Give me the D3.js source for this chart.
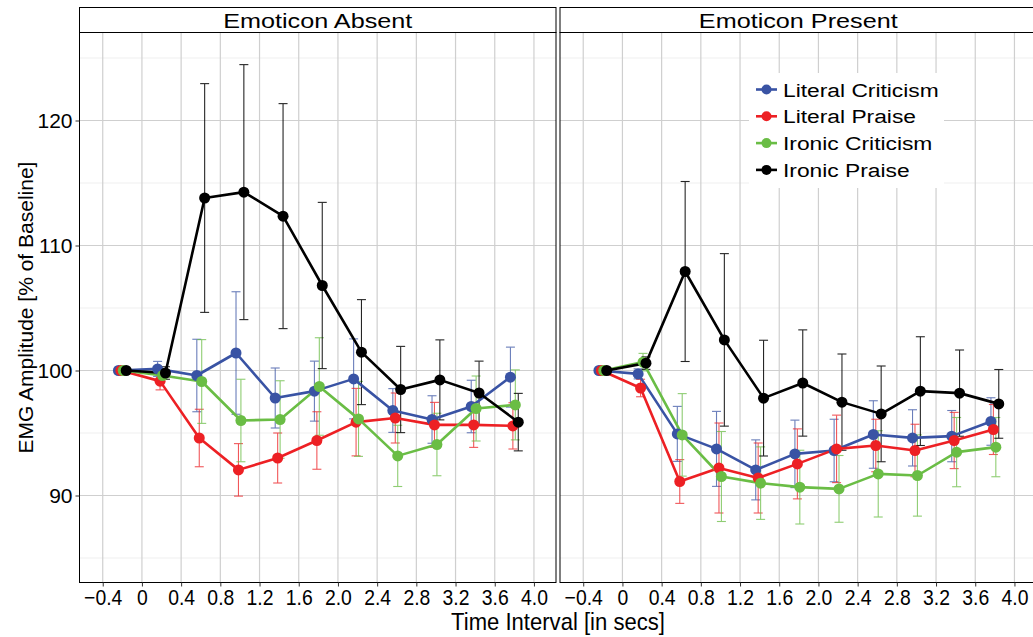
<!DOCTYPE html>
<html>
<head>
<meta charset="utf-8">
<script src="https://cdn.jsdelivr.net/npm/d3@7"></script>
<style>
  body { margin: 0; background: #fff; }
  svg { display: block; }
  text { font-family: "Liberation Sans", Arial, sans-serif; fill: #000; }
</style>
</head>
<body>
<div id="chart"></div>
<script>
// time bins (secs) and the two facets
const times = [-0.2, 0.2, 0.6, 1.0, 1.4, 1.8, 2.2, 2.6, 3.0, 3.4, 3.8];
const panels = ["Emoticon Absent", "Emoticon Present"];
const seriesNames = ["Literal Criticism", "Literal Praise", "Ironic Criticism", "Ironic Praise"];
const seriesColors = ["#3953a4", "#ed2024", "#6abd45", "#000000"];
const xTicks = [-0.4, 0, 0.4, 0.8, 1.2, 1.6, 2.0, 2.4, 2.8, 3.2, 3.6, 4.0];
const xTickLabels = ["\u22120.4", "0", "0.4", "0.8", "1.2", "1.6", "2.0", "2.4", "2.8", "3.2", "3.6", "4.0"];
const yTicks = [90, 100, 110, 120];
const yMinor = [85, 95, 105, 115, 125];

// Emoticon Absent
const absentLC    = [100, 100.13, 99.6, 101.4, 97.8, 98.35, 99.33, 96.8, 96.08, 97.12, 99.47];
const absentLCErr = [0, 0.6, 2.9, 4.9, 2.4, 2.4, 3.2, 1.75, 1.9, 2.1, 2.4];
const absentLP    = [100, 99.15, 94.6, 92.05, 93.0, 94.4, 95.87, 96.2, 95.65, 95.65, 95.57];
const absentLPErr = [0, 0.7, 2.3, 2.1, 2.0, 2.3, 2.7, 2.0, 1.8, 1.8, 1.85];
const absentIC    = [100, 99.6, 99.12, 96.0, 96.08, 98.72, 96.13, 93.17, 94.08, 96.96, 97.25];
const absentICErr = [0, 0.3, 3.35, 3.3, 3.1, 3.9, 3.0, 2.45, 2.5, 2.6, 2.8];
const absentIP    = [100, 99.8, 113.8, 114.27, 112.35, 106.8, 101.47, 98.48, 99.25, 98.2, 95.87];
const absentIPErr = [0, 0.5, 9.15, 10.2, 9.0, 6.65, 4.2, 3.45, 3.2, 2.55, 2.3];

// Emoticon Present
const presentLC    = [100, 99.73, 94.93, 93.73, 92.05, 93.33, 93.6, 94.88, 94.61, 94.75, 95.92];
const presentLCErr = [0, 0.4, 2.2, 3.0, 2.4, 2.7, 2.5, 2.7, 2.25, 2.05, 1.9];
const presentLP    = [100, 98.6, 91.12, 92.2, 91.4, 92.53, 93.73, 94.0, 93.6, 94.4, 95.28];
const presentLPErr = [0, 0.7, 1.75, 3.6, 2.8, 2.8, 2.7, 2.1, 2.1, 2.25, 2.0];
const presentIC    = [100, 100.67, 94.85, 91.52, 90.99, 90.67, 90.53, 91.73, 91.6, 93.47, 93.87];
const presentICErr = [0, 0.7, 3.3, 3.6, 2.9, 2.95, 2.67, 3.45, 3.25, 2.77, 2.37];
const presentIP    = [100, 100.59, 107.92, 102.45, 97.79, 99.0, 97.47, 96.53, 98.35, 98.19, 97.33];
const presentIPErr = [0, 0.5, 7.2, 6.9, 4.63, 4.25, 3.85, 3.83, 4.35, 3.45, 2.75];

const panelData = [
  [[absentLC, absentLCErr], [absentLP, absentLPErr], [absentIC, absentICErr], [absentIP, absentIPErr]],
  [[presentLC, presentLCErr], [presentLP, presentLPErr], [presentIC, presentICErr], [presentIP, presentIPErr]]
];

const W = 1033, H = 637;
const panelW = 476.5, panelGap = 4;
const left = 79.5, stripTop = 7.5, stripH = 25, plotTop = 32.5, plotBot = 582.5;
const dodge = [-0.04, -0.015, 0.01, 0.04];

const svg = d3.select("#chart").append("svg")
  .attr("width", W).attr("height", H);

const x = d3.scaleLinear().domain([-0.637, 4.225]).range([0, panelW]);
const y = d3.scaleLinear().domain([83.04, 127.04]).range([plotBot - plotTop, 0]);

panels.forEach(function(title, pi) {
  const px = left + pi * (panelW + panelGap);
  const g = svg.append("g").attr("transform", `translate(${px},${plotTop})`);
  const h = plotBot - plotTop;

  // strip
  svg.append("rect")
    .attr("x", px).attr("y", stripTop).attr("width", panelW).attr("height", stripH)
    .attr("fill", "#fff").attr("stroke", "#000").attr("stroke-width", 1);
  svg.append("text")
    .attr("transform", `translate(${px + panelW / 2},${stripTop + stripH / 2 + 7.5}) scale(1.2,1)`)
    .attr("text-anchor", "middle").style("font-size", "21px")
    .text(title);

  // grid
  g.selectAll(".ymin").data(yMinor).enter().append("line")
    .attr("x1", 0).attr("x2", panelW)
    .attr("y1", d => y(d)).attr("y2", d => y(d))
    .attr("stroke", "#efefef").attr("stroke-width", 1);
  g.selectAll(".ymaj").data(yTicks).enter().append("line")
    .attr("x1", 0).attr("x2", panelW)
    .attr("y1", d => y(d)).attr("y2", d => y(d))
    .attr("stroke", "#cfcfcf").attr("stroke-width", 1.2);
  g.selectAll(".xmaj").data(xTicks).enter().append("line")
    .attr("y1", 0).attr("y2", h)
    .attr("x1", d => x(d)).attr("x2", d => x(d))
    .attr("stroke", "#cfcfcf").attr("stroke-width", 1.2);

  const series = panelData[pi];

  // error bars
  series.forEach(function(s, si) {
    const pts = times.map((t, i) => ({ t: t + dodge[si], m: s[0][i], e: s[1][i] }));
    const eb = g.append("g").attr("stroke", seriesColors[si]).attr("stroke-width", 1.1)
      .attr("opacity", si === 3 ? 0.85 : 0.75);
    pts.filter(p => p.e > 0).forEach(function(p) {
      const cx = x(p.t);
      eb.append("line").attr("x1", cx).attr("x2", cx).attr("y1", y(p.m - p.e)).attr("y2", y(p.m + p.e));
      eb.append("line").attr("x1", cx - 4.5).attr("x2", cx + 4.5).attr("y1", y(p.m - p.e)).attr("y2", y(p.m - p.e));
      eb.append("line").attr("x1", cx - 4.5).attr("x2", cx + 4.5).attr("y1", y(p.m + p.e)).attr("y2", y(p.m + p.e));
    });
  });

  // lines
  const line = d3.line().x(d => x(d.t)).y(d => y(d.m));
  series.forEach(function(s, si) {
    const pts = times.map((t, i) => ({ t: t + dodge[si], m: s[0][i] }));
    g.append("path").datum(pts).attr("d", line)
      .attr("fill", "none").attr("stroke", seriesColors[si]).attr("stroke-width", 2.6)
      .attr("stroke-linejoin", "round");
  });

  // points
  series.forEach(function(s, si) {
    const pts = times.map((t, i) => ({ t: t + dodge[si], m: s[0][i] }));
    g.selectAll(".pt" + si).data(pts).enter().append("circle")
      .attr("cx", d => x(d.t)).attr("cy", d => y(d.m)).attr("r", 5.5)
      .attr("fill", seriesColors[si]);
  });

  // panel border
  g.append("rect").attr("x", 0).attr("y", 0).attr("width", panelW).attr("height", h)
    .attr("fill", "none").attr("stroke", "#000").attr("stroke-width", 1);

  // x axis
  const xa = svg.append("g").attr("transform", `translate(${px},${plotBot})`)
    .call(d3.axisBottom(x).tickValues(xTicks).tickSize(4).tickPadding(3)
      .tickFormat((d, i) => xTickLabels[i]));
  xa.select(".domain").remove();
  xa.selectAll(".tick line").attr("stroke", "#333");
  xa.selectAll(".tick text")
    .attr("transform", "scale(0.88,1)")
    .style("font-size", "22px").attr("fill", "#000");
});

// y axis
const ya = svg.append("g").attr("transform", `translate(${left},${plotTop})`)
  .call(d3.axisLeft(y).tickValues(yTicks).tickSize(4).tickPadding(3));
ya.select(".domain").remove();
ya.selectAll(".tick line").attr("stroke", "#333");
ya.selectAll(".tick text").style("font-size", "21px").attr("fill", "#000");

// axis titles
svg.append("text")
  .attr("transform", `translate(${left + panelW + panelGap / 2},630) scale(0.92,1)`)
  .attr("text-anchor", "middle").style("font-size", "24px")
  .text("Time Interval [in secs]");
svg.append("text")
  .attr("transform", `translate(33,${(plotTop + plotBot) / 2}) rotate(-90)`)
  .attr("text-anchor", "middle").style("font-size", "21px")
  .text("EMG Amplitude [% of Baseline]");

// legend (inside right panel)
const lg = svg.append("g").attr("transform", "translate(749,73)");
lg.append("rect").attr("x", 0).attr("y", 0).attr("width", 195).attr("height", 115).attr("fill", "#fff");
seriesNames.forEach(function(name, i) {
  const ly = 16.5 + i * 26.8;
  lg.append("line").attr("x1", 7).attr("x2", 28).attr("y1", ly).attr("y2", ly)
    .attr("stroke", seriesColors[i]).attr("stroke-width", 2.6);
  lg.append("circle").attr("cx", 17.5).attr("cy", ly).attr("r", 5).attr("fill", seriesColors[i]);
  lg.append("text").attr("transform", `translate(34,${ly + 7}) scale(1.2,1)`)
    .style("font-size", "19px").text(name);
});
</script>
</body>
</html>
